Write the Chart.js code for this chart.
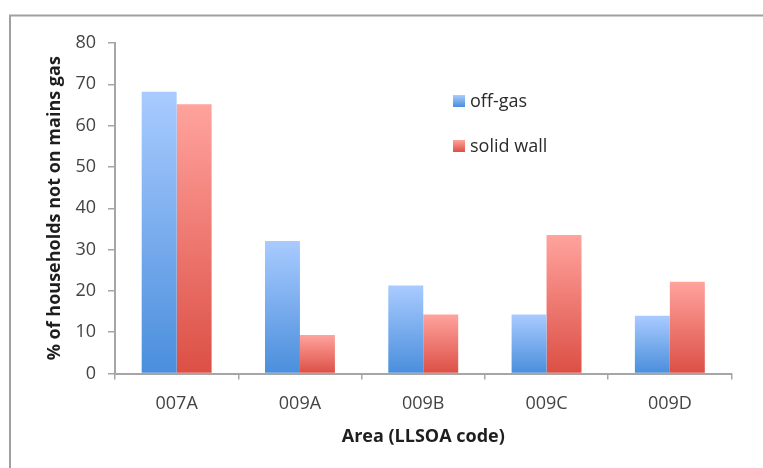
<!DOCTYPE html>
<html>
<head>
<meta charset="utf-8">
<title>Households not on mains gas by area</title>
<script src="https://cdn.jsdelivr.net/npm/chart.js@4/dist/chart.umd.min.js"></script>
<style>
  html, body { margin: 0; padding: 0; background: #ffffff; }
  #wrap { width: 763px; height: 468px; }
</style>
</head>
<body>
<div id="wrap"><canvas id="c" width="763" height="468"></canvas></div>
<script>
// Chart data
const areas = ['007A', '009A', '009B', '009C', '009D'];
const offGas = [68.2, 32.1, 21.3, 14.3, 14.0];
const solidWall = [65.2, 9.3, 14.3, 33.5, 22.2];
const yTickValues = [0, 10, 20, 30, 40, 50, 60, 70, 80];

const FONT = '"Open Sans", "DejaVu Sans", sans-serif';
const AXIS_GREY = '#a6a6a6';

const BLUE = { top: '#a9cbff', bottom: '#4a8edc' };
const RED = { top: '#ffa39d', bottom: '#dc4f45' };

// Vertical gradient running over each bar's own height
function barFill(c) {
  return (ctx) => {
    const chart = ctx.chart;
    if (!chart.chartArea || ctx.type !== 'data') return c.bottom;
    const y = chart.scales.y;
    const yTop = y.getPixelForValue(ctx.raw);
    const yBase = y.getPixelForValue(0);
    const g = chart.ctx.createLinearGradient(0, yTop, 0, yBase);
    g.addColorStop(0, c.top);
    g.addColorStop(1, c.bottom);
    return g;
  };
}

// Outer frame lines (top and left edges)
const framePlugin = {
  id: 'frame',
  beforeDraw(chart) {
    const ctx = chart.ctx;
    ctx.save();
    ctx.strokeStyle = '#a0a0a0';
    ctx.lineWidth = 2;
    ctx.beginPath();
    ctx.moveTo(10, 468);
    ctx.lineTo(10, 15.5);
    ctx.lineTo(763, 15.5);
    ctx.stroke();
    ctx.restore();
  }
};

// Legend drawn inside the plot area
const insideLegend = {
  id: 'insideLegend',
  afterDraw(chart) {
    const ctx = chart.ctx;
    const area = chart.chartArea;
    const colors = [BLUE, RED];
    ctx.save();
    chart.data.datasets.forEach((ds, i) => {
      const x = area.left + 338;
      const cy = area.top + 58 + i * 45;
      const g = ctx.createLinearGradient(0, cy - 6, 0, cy + 6);
      g.addColorStop(0, colors[i].top);
      g.addColorStop(1, colors[i].bottom);
      ctx.fillStyle = g;
      ctx.fillRect(x, cy - 6, 12, 12);
      ctx.fillStyle = '#2a2a2a';
      ctx.font = '18px ' + FONT;
      ctx.textBaseline = 'middle';
      ctx.textAlign = 'left';
      ctx.fillText(ds.label, x + 17, cy + 1);
    });
    ctx.restore();
  }
};

new Chart(document.getElementById('c'), {
  type: 'bar',
  data: {
    labels: areas,
    datasets: [
      { label: 'off-gas', data: offGas, backgroundColor: barFill(BLUE) },
      { label: 'solid wall', data: solidWall, backgroundColor: barFill(RED) }
    ]
  },
  options: {
    responsive: false,
    animation: false,
    devicePixelRatio: 1,
    layout: { padding: { top: 43, right: 31.5, bottom: 0, left: 0 } },
    datasets: { bar: { barPercentage: 1.0, categoryPercentage: 0.567, borderWidth: 0 } },
    plugins: {
      legend: { display: false },
      tooltip: { enabled: false }
    },
    scales: {
      x: {
        grid: {
          display: true, drawOnChartArea: false, drawTicks: true,
          tickLength: 6, color: AXIS_GREY, lineWidth: 1.5, offset: true
        },
        border: { display: true, color: AXIS_GREY, width: 2 },
        ticks: { color: '#444444', font: { family: FONT, size: 18 }, padding: 14 },
        title: {
          display: true, text: 'Area (LLSOA code)', color: '#1e1e1e',
          font: { family: FONT, size: 18, weight: 'bold' },
          padding: { top: 0, bottom: 20 }
        },
        afterFit(scale) { scale.height = 94.5; }
      },
      y: {
        min: 0, max: 80,
        afterBuildTicks(scale) { scale.ticks = yTickValues.map(v => ({ value: v })); },
        grid: {
          display: true, drawOnChartArea: false, drawTicks: true,
          tickLength: 7, color: AXIS_GREY, lineWidth: 1.5
        },
        border: { display: true, color: AXIS_GREY, width: 2 },
        ticks: { color: '#444444', font: { family: FONT, size: 18 }, padding: 12 },
        title: {
          display: true, text: '% of households not on mains gas', color: '#1e1e1e',
          font: { family: FONT, size: 18, weight: 'bold' },
          padding: { top: 44, bottom: 0 }
        },
        afterFit(scale) { scale.width = 115; }
      }
    }
  },
  plugins: [framePlugin, insideLegend]
});
</script>
</body>
</html>
